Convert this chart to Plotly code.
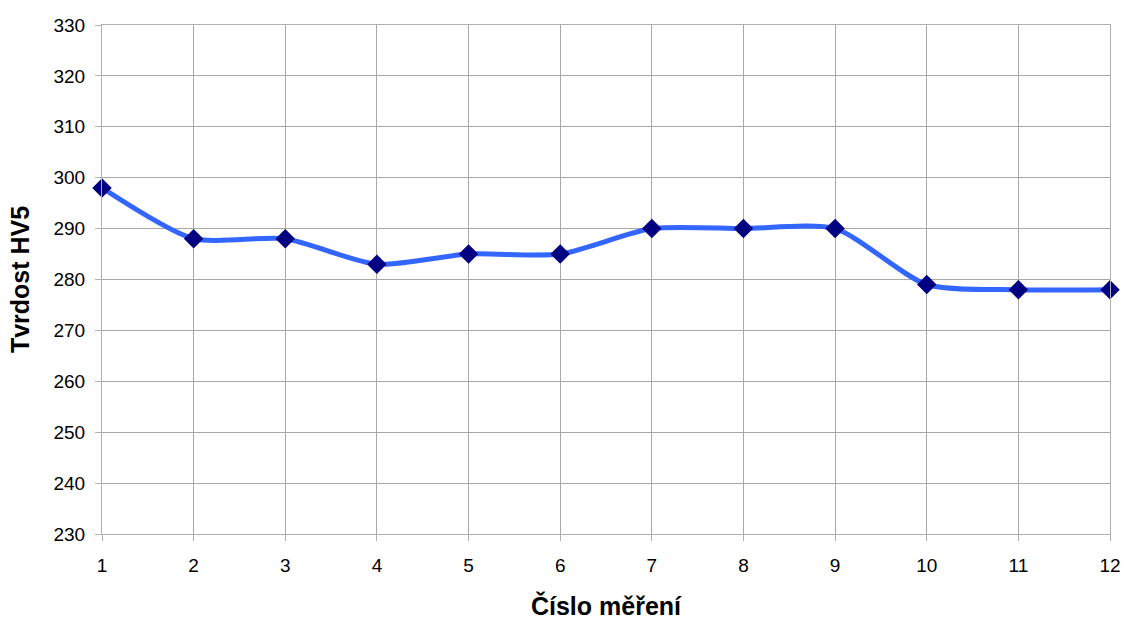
import plotly.graph_objects as go

# measurement number and hardness HV5
mereni = list(range(1, 13))
tvrdost = [298, 288, 288, 283, 285, 285, 290, 290, 290, 279, 278, 278]

y_ticks = list(range(230, 331, 10))

fig = go.Figure()

fig.add_trace(
    go.Scatter(
        x=mereni,
        y=tvrdost,
        mode='lines+markers',
        line=dict(color='#3366ff', width=5, shape='spline', smoothing=0.7),
        marker=dict(symbol='diamond', size=15, color='#000080'),
        cliponaxis=False,
        showlegend=False,
    )
)

fig.update_layout(
    width=1126,
    height=620,
    paper_bgcolor='white',
    plot_bgcolor='white',
    margin=dict(l=102, r=16, t=25, b=86),
    font=dict(family="Liberation Sans, Arial, sans-serif", color="black"),
)

fig.update_xaxes(
    range=[1, 12],
    tickvals=mereni,
    ticks='outside',
    ticklen=6,
    tickcolor='#b0b0b0',
    tickfont=dict(size=19),
    ticklabelstandoff=8,
    showgrid=True,
    gridcolor='#a8a8a8',
    gridwidth=1,
    showline=True,
    linecolor='#b0b0b0',
    mirror=True,
    zeroline=False,
    automargin=False,
    title=dict(text='<b>Číslo měření</b>', font=dict(size=25), standoff=29),
)

fig.update_yaxes(
    range=[230, 330],
    tickvals=y_ticks,
    ticks='outside',
    ticklen=6,
    tickcolor='#b0b0b0',
    tickfont=dict(size=19),
    ticklabelstandoff=6,
    showgrid=True,
    gridcolor='#a8a8a8',
    gridwidth=1,
    showline=True,
    linecolor='#b0b0b0',
    mirror=True,
    zeroline=False,
    automargin=False,
    title=dict(text='<b>Tvrdost HV5</b>', font=dict(size=25), standoff=16),
)

# drop the default body margin so the figure fills the window exactly
fig.write_html(
    "out.html",
    config={'displayModeBar': False},
    post_script="document.body.style.margin='0px';",
)
